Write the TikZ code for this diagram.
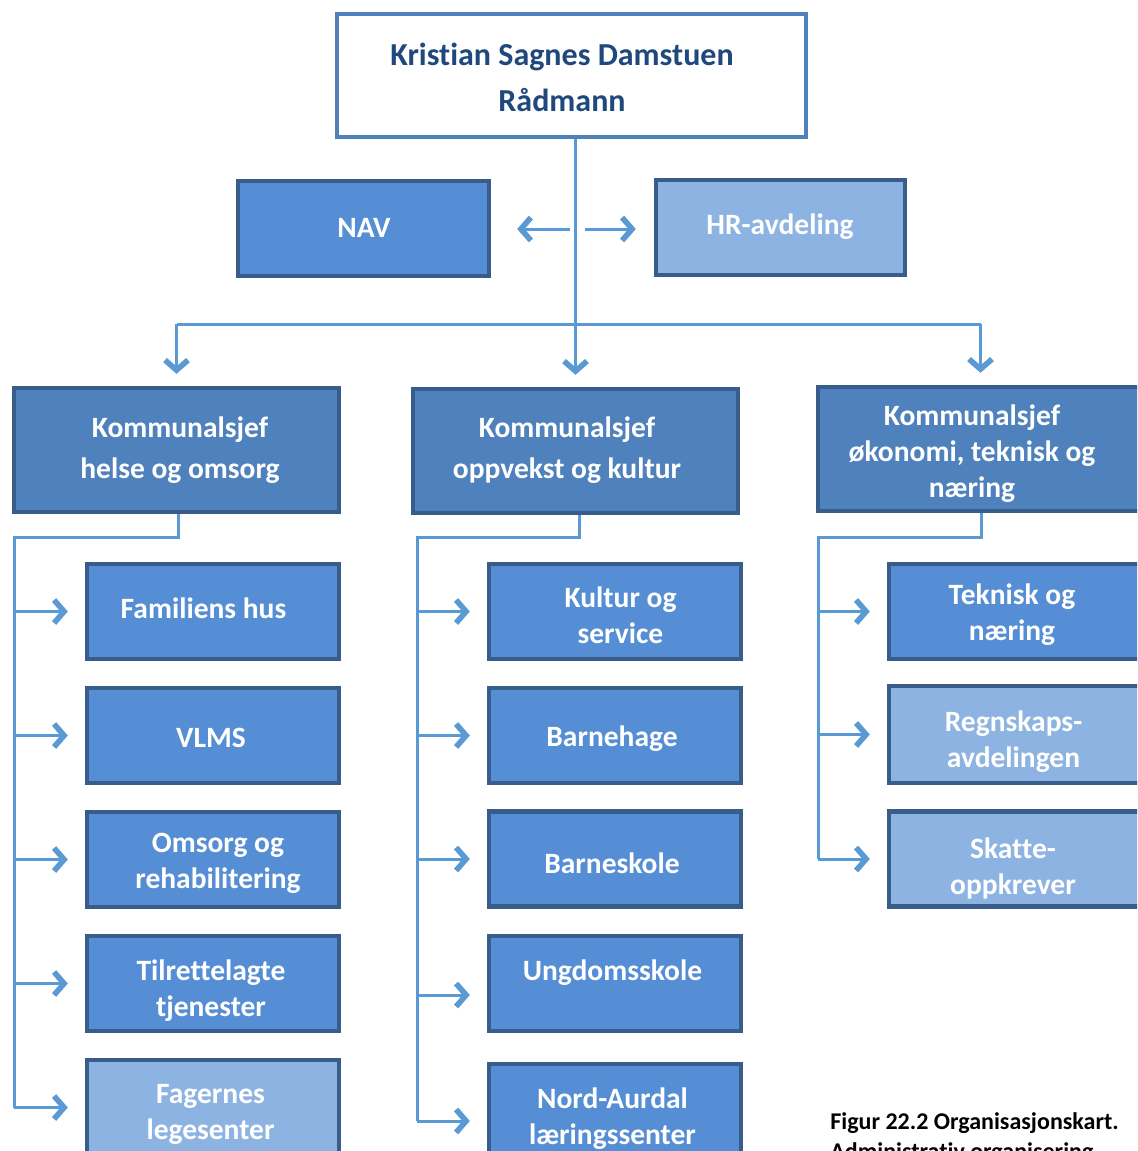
\documentclass[tikz,border=0pt]{standalone}
\usepackage{fontspec}
\setmainfont[Ligatures=NoCommon]{Carlito}
\usetikzlibrary{arrows.meta}
\definecolor{bd}{HTML}{385D8A}
\definecolor{topbd}{HTML}{4F81BD}
\definecolor{navy}{HTML}{1F497D}
\definecolor{midfill}{HTML}{558ED5}
\definecolor{kfill}{HTML}{4F81BD}
\definecolor{lightfill}{HTML}{8DB3E2}
\definecolor{cn}{HTML}{5A9AD4}
\begin{document}
\begin{tikzpicture}[x=0.5pt,y=-0.5pt,
  bx/.style={draw=bd, line width=2.2pt, rectangle, inner sep=0pt},
  kbox/.style={bx, fill=kfill, minimum width=162.5pt, minimum height=62pt},
  cbox/.style={bx, fill=midfill, minimum width=126pt, minimum height=47.5pt},
  lbox/.style={cbox, fill=lightfill},
  lbl/.style={text=white, font=\bfseries\fontsize{14.75}{18}\selectfont, align=center, inner sep=0pt},
  lblw/.style={lbl, font=\bfseries\fontsize{14.75}{20.5}\selectfont},
  conn/.style={draw=cn, line width=1.5pt},
  arr/.style={conn, -{Straight Barb[length=5pt,width=11.5pt,line width=2.8pt]}}]
\useasboundingbox (0,0) rectangle (1137,1151);
\clip (0,0) rectangle (1137,1151);
\fill[white] (0,0) rectangle (1137,1151);

% top
\node[bx, draw=topbd, fill=white, minimum width=234.5pt, minimum height=61.5pt] (top) at (571.5,75.5) {};
\node[lbl, text=navy, font=\bfseries\fontsize{16}{23}\selectfont] (topl) at (562,77) {Kristian Sagnes Damstuen\\Rådmann};

% staff
\node[cbox, minimum width=125.5pt] (nav) at (363.5,228.5) {};
\node[lbl] (navl) at (364,228) {NAV};
\node[lbox, minimum width=124.5pt] (hr) at (780.5,227.5) {};
\node[lbl] (hrl) at (780,227) {HR-avdeling};

% kommunalsjefer
\node[kbox] (k1) at (176.5,450) {};
\node[lblw] (k1l) at (180,450) {Kommunalsjef\\helse og omsorg};
\node[kbox] (k2) at (575.5,451) {};
\node[lblw] (k2l) at (567,450) {Kommunalsjef\\oppvekst og kultur};
\node[kbox] (k3) at (980.5,449) {};
\node[lbl] (k3l) at (972,454) {Kommunalsjef\\økonomi, teknisk og\\næring};

% left column
\node[cbox] (a1) at (213,611.5) {};
\node[lbl] (a1l) at (203.5,608) {Familiens hus};
\node[cbox] (a2) at (213,735.5) {};
\node[lbl] (a2l) at (211,738) {VLMS};
\node[cbox] (a3) at (213,859.5) {};
\node[lbl] (a3l) at (218,863) {Omsorg og\\rehabilitering};
\node[cbox] (a4) at (213,983.5) {};
\node[lbl] (a4l) at (211,991) {Tilrettelagte\\tjenester};
\node[lbox] (a5) at (213,1107.5) {};
\node[lbl] (a5l) at (210.5,1114) {Fagernes\\legesenter};

% middle column
\node[cbox] (b1) at (615,611.5) {};
\node[lbl] (b1l) at (620.5,615) {Kultur og\\service};
\node[cbox] (b2) at (615,735.5) {};
\node[lbl] (b2l) at (612,739) {Barnehage};
\node[cbox] (b3) at (615,859) {};
\node[lbl] (b3l) at (612,863) {Barneskole};
\node[cbox] (b4) at (615,983.5) {};
\node[lbl] (b4l) at (612.5,973) {Ungdomsskole};
\node[cbox] (b5) at (615,1111.5) {};
\node[lbl] (b5l) at (612.5,1119) {Nord-Aurdal\\læringssenter};

% right column
\node[cbox] (c1) at (1015,611.5) {};
\node[lbl] (c1l) at (1012,615) {Teknisk og\\næring};
\node[lbox, minimum height=48.5pt] (c2) at (1015,734.5) {};
\node[lbl] (c2l) at (1013.5,742) {Regnskaps-\\avdelingen};
\node[lbox] (c3) at (1015,859) {};
\node[lbl] (c3l) at (1013,868) {Skatte-\\oppkrever};

% caption
\node[anchor=base west, inner sep=0pt, font=\bfseries\fontsize{12}{14.5}\selectfont] (cap1) at (830,1129) {Figur 22.2 Organisasjonskart.};
\node[anchor=base west, inner sep=0pt, font=\bfseries\fontsize{12}{14.5}\selectfont] (cap2) at (830,1159) {Administrativ organisering};

% connectors: top level
\coordinate (hb) at (0,324);
\draw[arr, shorten >=6pt] (top.south -| k2.north) -- (k2.north);
\draw[conn] (k1.north |- hb) -- (k3.north |- hb);
\draw[arr, shorten >=6pt] (k1.north |- hb) -- (k1.north);
\draw[arr, shorten >=6pt] (k3.north |- hb) -- (k3.north);
\coordinate (navs) at (570,229);
\coordinate (hrs) at (585,229);
\draw[arr, shorten >=13pt] (navs) -- (navs -| nav.east);
\draw[arr, shorten >=9pt] (hrs) -- (hrs -| hr.west);

% left bus
\coordinate (lt) at (178,537);
\coordinate (lx) at (14,537);
\draw[conn] (k1.south -| lt) -- (lt) -- (lx) -- (lx |- a5);
\foreach \n in {a1,a2,a3,a4,a5}
  \draw[arr, shorten >=8.5pt] (lx |- \n) -- (\n.west);

% middle bus
\coordinate (mt) at (579,537);
\coordinate (mx) at (417,537);
\draw[conn] (k2.south -| mt) -- (mt) -- (mx) -- (417,1121);
\draw[arr, shorten >=8.5pt] (mx |- b1) -- (b1.west);
\draw[arr, shorten >=8.5pt] (mx |- b2) -- (b2.west);
\draw[arr, shorten >=8.5pt] (mx |- b3) -- (b3.west);
\coordinate (m4) at (417,995);
\coordinate (m5) at (417,1121);
\draw[arr, shorten >=8.5pt] (m4) -- (m4 -| b4.west);
\draw[arr, shorten >=8.5pt] (m5) -- (m5 -| b5.west);

% right bus
\coordinate (rt) at (981,537);
\coordinate (rx) at (818,537);
\draw[conn] (k3.south -| rt) -- (rt) -- (rx) -- (rx |- c3);
\foreach \n in {c1,c2,c3}
  \draw[arr, shorten >=8.5pt] (rx |- \n) -- (\n.west);
\end{tikzpicture}
\end{document}
